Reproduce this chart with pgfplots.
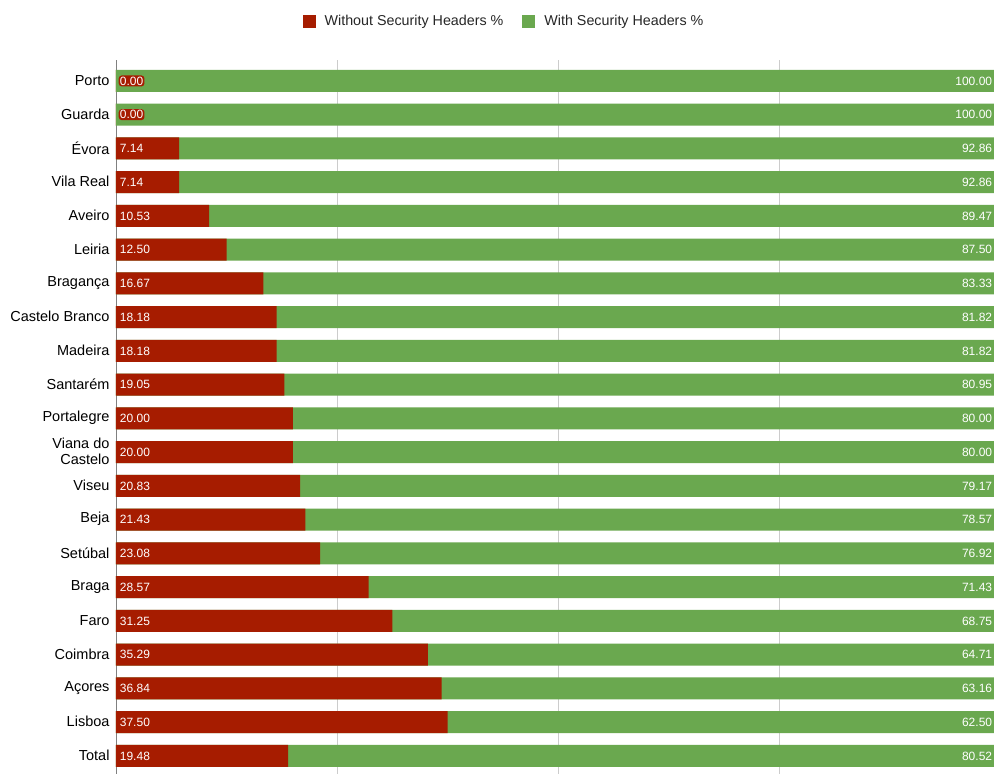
\documentclass[border=0pt]{standalone}
\usepackage{pgfplots}
\usepackage{pgfplotstable}
\pgfplotsset{compat=1.18}
\usepackage{fontspec}
\setmainfont{Liberation Sans}
\definecolor{gred}{HTML}{A61C00}
\definecolor{ggreen}{HTML}{6AA84F}
\pgfplotstableread{
y red green
0 0.00 100.00
1 0.00 100.00
2 7.14 92.86
3 7.14 92.86
4 10.53 89.47
5 12.50 87.50
6 16.67 83.33
7 18.18 81.82
8 18.18 81.82
9 19.05 80.95
10 20.00 80.00
11 20.00 80.00
12 20.83 79.17
13 21.43 78.57
14 23.08 76.92
15 28.57 71.43
16 31.25 68.75
17 35.29 64.71
18 36.84 63.16
19 37.50 62.50
20 19.48 80.52
}\data
\begin{document}
\begin{tikzpicture}
\begin{axis}[
  at={(116pt,-2.85pt)}, anchor=south west,
  scale only axis, width=884pt, height=716.85pt,
  xmin=0, xmax=100, ymin=-0.62, ymax=20.62,
  y dir=reverse,
  xtick={0,25,50,75,100}, xticklabels={},
  xmajorgrids, major grid style={draw=black!20, line width=0.9pt},
  ytick={0,...,20},
  yticklabels={Porto,Guarda,Évora,Vila Real,Aveiro,Leiria,Bragança,Castelo Branco,Madeira,Santarém,Portalegre,{Viana do\\Castelo},Viseu,Beja,Setúbal,Braga,Faro,Coimbra,Açores,Lisboa,Total},
  yticklabel style={font=\fontsize{14.5}{16}\selectfont, align=right, xshift=-3pt, yshift=0.6pt, text=black},
  major tick length=0pt,
  axis lines*=left,
  x axis line style={draw=none},
  y axis line style={draw=black!50, line width=0.9pt, -},
  legend columns=2,
  legend image code/.code={\fill[#1] (0pt,-6.5pt) rectangle (13pt,6.5pt);},
  legend style={at={(0.4389,1.0544)}, anchor=center, draw=none, fill=none,
    font=\fontsize{14.3}{16}\selectfont, text=black!85,
    /tikz/every odd column/.append style={column sep=7pt},
    /tikz/every even column/.append style={column sep=17pt}},
  legend cell align=left,
]
\addplot[xbar, bar width=22pt, bar shift=0pt, fill=ggreen, draw=none, forget plot] table[x expr=100, y=y] {\data};
\addplot[xbar, bar width=22pt, bar shift=0pt, fill=gred, draw=none, forget plot] table[x=red, y=y] {\data};
% labels of the red segments
\addplot[xbar, bar width=22pt, bar shift=0pt, draw=none, fill=none, forget plot,
  nodes near coords, point meta=explicit symbolic,
  every node near coord/.style={font=\fontsize{12}{12}\selectfont, text=white, anchor=west,
    fill=gred, rounded corners=3pt, inner sep=1.2pt, xshift=2.5pt}]
  table[x expr=0, y=y, meta=red] {\data};
% labels of the green segments
\addplot[xbar, bar width=22pt, bar shift=0pt, draw=none, fill=none, forget plot,
  nodes near coords, point meta=explicit symbolic,
  every node near coord/.style={font=\fontsize{12}{12}\selectfont, text=white, anchor=east,
    inner sep=1.2pt, xshift=-6.5pt}]
  table[x expr=100, y=y, meta=green] {\data};
\addlegendimage{fill=gred, draw=none}
\addlegendentry{Without Security Headers \%}
\addlegendimage{fill=ggreen, draw=none}
\addlegendentry{With Security Headers \%}
\end{axis}
\pgfresetboundingbox
\useasboundingbox (0pt,0pt) rectangle (994pt,774pt);
\end{tikzpicture}
\end{document}
